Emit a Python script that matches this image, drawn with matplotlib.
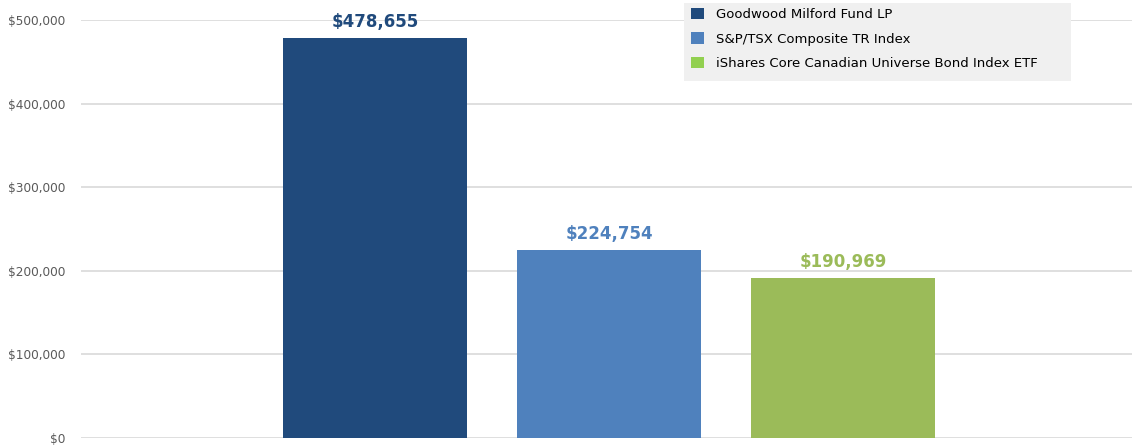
import matplotlib.pyplot as plt
from matplotlib.patches import Patch, Rectangle
from matplotlib.ticker import FuncFormatter

# data
names = ["Goodwood Milford Fund LP", "S&P/TSX Composite TR Index",
         "iShares Core Canadian Universe Bond Index ETF"]
values = [478655, 224754, 190969]
bar_colors = ["#204a7c", "#4f81bd", "#9bbb59"]
legend_colors = ["#204a7c", "#4f81bd", "#92d050"]
yticks = [0, 100000, 200000, 300000, 400000, 500000]

W, H = 1132, 447
fig = plt.figure(figsize=(W / 100, H / 100), dpi=100)
# axes placed by pixel: gridlines run from x=81 to the right edge, y=20..438
ax = fig.add_axes([81 / W, 1 - 438 / H, (W - 81) / W, (438 - 20) / H])

xpos = [0, 1, 2]
ax.bar(xpos, values, width=0.786, color=bar_colors, zorder=3)

for x, v, c in zip(xpos, values, bar_colors):
    ax.annotate("${:,}".format(v), (x, v), xytext=(0, 5), textcoords="offset points",
                ha="center", va="bottom", fontsize=12, fontweight="bold", color=c)

ax.set_xlim(-1.256, 3.235)
ax.set_ylim(0, 500000)
ax.set_yticks(yticks)
ax.yaxis.set_major_formatter(FuncFormatter(lambda v, p: "${:,.0f}".format(v)))
ax.set_xticks([])
ax.tick_params(axis="y", length=0, pad=11, labelsize=8.7, labelcolor="#595959")
for s in ax.spines.values():
    s.set_visible(False)
ax.grid(axis="y", color="#d9d9d9", linewidth=1.2, zorder=0)
ax.set_axisbelow(True)

# legend background box
fig.patches.append(Rectangle((684 / W, 1 - 81 / H), (1071 - 684) / W, 78 / H,
                             transform=fig.transFigure, facecolor="#f0f0f0",
                             edgecolor="none", zorder=5))

handles = [Patch(facecolor=c, edgecolor="none") for c in legend_colors]
leg = fig.legend(handles, names, loc="upper left",
                 bbox_to_anchor=(686 / W, 1 - 3 / H), frameon=False,
                 fontsize=9.5, handlelength=1.0, handleheight=1.0,
                 handletextpad=0.9, labelspacing=0.84, borderpad=0.35,
                 borderaxespad=0)
leg.set_zorder(6)

plt.savefig("out.png", dpi=100)
